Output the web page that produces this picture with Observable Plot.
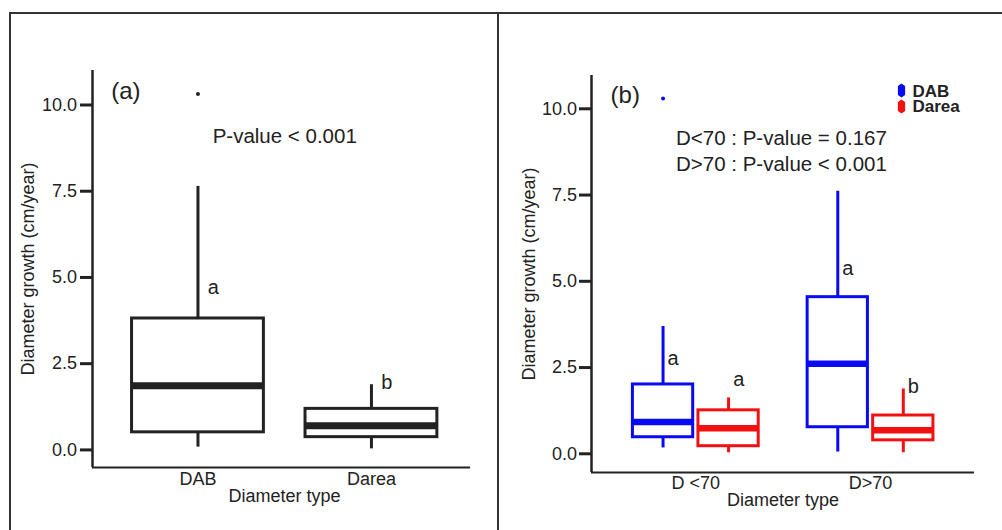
<!DOCTYPE html>
<html><head><meta charset="utf-8">
<script src="https://cdn.jsdelivr.net/npm/d3@7"></script>
<script src="https://cdn.jsdelivr.net/npm/@observablehq/plot@0.6"></script>
<style>
body{margin:0;background:#fff;}
#wrap{position:relative;width:1002px;height:530px;overflow:hidden;background:#fff;font-family:"Liberation Sans",Arial,sans-serif;}
.bl{position:absolute;background:#333;}
.panel{position:absolute;top:0;}
</style></head><body>
<div id="wrap">
<div id="pa" class="panel" style="left:0px"></div>
<div id="pb" class="panel" style="left:498px"></div>
<div class="bl" style="left:9px;top:12px;width:993px;height:2px"></div>
<div class="bl" style="left:9px;top:12px;width:2px;height:518px"></div>
<div class="bl" style="left:497px;top:12px;width:2px;height:518px"></div>
</div>
<script>
// ---------- Panel (a) data ----------
const catsA = ["DAB", "Darea"];
const minA = [0.08, 0.03];
const q1A = [0.51, 0.37];
const medA = [1.86, 0.70];
const q3A = [3.81, 1.19];
const maxA = [7.64, 1.89];
const outlierCatA = ["DAB"];
const outlierValA = [10.32];
const lettersA = ["a", "b"];
const letterYA = [4.70, 1.95];
const pTextA = ["P-value < 0.001"];

// ---------- Panel (b) data ----------
const groupsB = ["D <70", "D>70"];
const seriesB = ["DAB", "Darea"];
const rowGroupB = ["D <70", "D <70", "D>70", "D>70"];
const rowSeriesB = ["DAB", "Darea", "DAB", "Darea"];
const minB = [0.17, 0.03, 0.05, 0.03];
const q1B = [0.48, 0.22, 0.77, 0.39];
const medB = [0.92, 0.74, 2.61, 0.68];
const q3B = [2.01, 1.26, 4.54, 1.11];
const maxB = [3.69, 1.62, 7.61, 1.88];
const lettersB = ["a", "a", "a", "b"];
const letterYB = [2.75, 2.15, 5.36, 1.95];
const outlierGroupB = ["D <70"];
const outlierSeriesB = ["DAB"];
const outlierValB = [10.30];
const pTextB = ["D<70 : P-value = 0.167", "D>70 : P-value < 0.001"];
const pTextYB = [9.13, 8.38];

const yTicks = [0, 2.5, 5, 7.5, 10];
const yTickLabels = ["0.0", "2.5", "5.0", "7.5", "10.0"];
const colorB = {DAB: "#0a0af2", Darea: "#f21010"};
const ink = "#222";

// legend key symbol (tall hexagon)
const keyShape = {draw(ctx) {
  const w = 3.6, h = 7, c = 2.6;
  ctx.moveTo(0, -h); ctx.lineTo(w, -h + c); ctx.lineTo(w, h - c);
  ctx.lineTo(0, h); ctx.lineTo(-w, h - c); ctx.lineTo(-w, -h + c); ctx.closePath();
}};

const baseStyle = {fontFamily: "'Liberation Sans', Arial, sans-serif", fontSize: "18px", color: ink, background: "white", overflow: "visible"};

function yAxisMarks(pad) {
  return [
    Plot.axisY({ticks: yTicks, tickFormat: () => "", tickSize: 12, tickPadding: 0, strokeWidth: 3, stroke: ink, label: null}),
    Plot.text(yTickLabels, {y: (d, i) => yTicks[i], frameAnchor: "left", dx: -12 - pad, textAnchor: "end", lineAnchor: "middle", fontSize: 18, fill: ink})
  ];
}

// ---------- Panel (a) ----------
const idxA = catsA.map((_, i) => i);
const posA = c => catsA.indexOf(c) + 1;
const hwA = 0.38;
const yDomA = [-0.51, 11.0];
const xDomA = [0.392, 2.571];

const plotA = Plot.plot({
  width: 498, height: 530,
  marginLeft: 92, marginRight: 28, marginTop: 70, marginBottom: 63,
  style: baseStyle,
  x: {domain: xDomA},
  y: {domain: yDomA},
  marks: [
    Plot.ruleX(idxA, {x: i => posA(catsA[i]), y1: i => q3A[i], y2: i => maxA[i], stroke: ink, strokeWidth: 3}),
    Plot.ruleX(idxA, {x: i => posA(catsA[i]), y1: i => minA[i], y2: i => q1A[i], stroke: ink, strokeWidth: 3}),
    Plot.rect(idxA, {x1: i => posA(catsA[i]) - hwA, x2: i => posA(catsA[i]) + hwA, y1: i => q1A[i], y2: i => q3A[i], fill: "white", stroke: ink, strokeWidth: 3}),
    Plot.ruleY(idxA, {y: i => medA[i], x1: i => posA(catsA[i]) - hwA, x2: i => posA(catsA[i]) + hwA, stroke: ink, strokeWidth: 7}),
    Plot.dot(outlierValA, {x: (d, i) => posA(outlierCatA[i]), y: d => d, r: 2, fill: ink, stroke: "none"}),
    Plot.text(lettersA, {x: (d, i) => posA(catsA[i]) + 0.089, y: (d, i) => letterYA[i], fontSize: 20, fill: ink}),
    Plot.text(pTextA, {x: 1.5, y: 9.1, fontSize: 20.5, fill: ink}),
    Plot.text(["(a)"], {x: 0.5, y: 10.4, textAnchor: "start", fontSize: 24, fill: ink}),
    Plot.ruleX([xDomA[0]], {stroke: ink, strokeWidth: 2.5}),
    Plot.ruleY([yDomA[0]], {stroke: ink, strokeWidth: 2}),
    ...yAxisMarks(3.5),
    Plot.axisX({ticks: [1, 2], tickFormat: v => catsA[v - 1], tickSize: 0, tickPadding: 5, fill: ink, label: null}),
    Plot.text(["Diameter growth (cm/year)"], {frameAnchor: "left", dx: -64, rotate: -90, textAnchor: "middle", lineAnchor: "middle", fontSize: 18, fill: ink}),
    Plot.text(["Diameter type"], {frameAnchor: "bottom", dx: 3, dy: 29, textAnchor: "middle", lineAnchor: "middle", fontSize: 18, fill: ink})
  ]
});
document.getElementById("pa").appendChild(plotA);

// ---------- Panel (b) ----------
const idxB = rowGroupB.map((_, i) => i);
const offB = {DAB: -0.1875, Darea: 0.1875};
const posB = (g, s) => groupsB.indexOf(g) + 1 + offB[s];
const hwB = 0.1725;
const yDomB = [-0.542, 10.965];
const xDomB = [0.403, 2.595];
const cB = i => colorB[rowSeriesB[i]];

const legendMarks = seriesB.flatMap((s, i) => [
  Plot.dot([s], {frameAnchor: "top-right", dx: -73, dy: 15 + i * 16, symbol: keyShape, fill: colorB[s], stroke: "none"}),
  Plot.text([s], {frameAnchor: "top-right", dx: -62, dy: 16.5 + i * 15, textAnchor: "start", lineAnchor: "middle", fontWeight: "bold", fontSize: 17, fill: ink})
]);

const plotB = Plot.plot({
  width: 504, height: 530,
  marginLeft: 93, marginRight: 28, marginTop: 75, marginBottom: 58,
  style: baseStyle,
  x: {domain: xDomB},
  y: {domain: yDomB},
  marks: [
    Plot.ruleX(idxB, {x: i => posB(rowGroupB[i], rowSeriesB[i]), y1: i => q3B[i], y2: i => maxB[i], stroke: cB, strokeWidth: 3}),
    Plot.ruleX(idxB, {x: i => posB(rowGroupB[i], rowSeriesB[i]), y1: i => minB[i], y2: i => q1B[i], stroke: cB, strokeWidth: 3}),
    Plot.rect(idxB, {x1: i => posB(rowGroupB[i], rowSeriesB[i]) - hwB, x2: i => posB(rowGroupB[i], rowSeriesB[i]) + hwB, y1: i => q1B[i], y2: i => q3B[i], fill: "white", stroke: cB, strokeWidth: 3}),
    Plot.ruleY(idxB, {y: i => medB[i], x1: i => posB(rowGroupB[i], rowSeriesB[i]) - hwB, x2: i => posB(rowGroupB[i], rowSeriesB[i]) + hwB, stroke: cB, strokeWidth: 6.5}),
    Plot.dot(outlierValB, {x: (d, i) => posB(outlierGroupB[i], outlierSeriesB[i]), y: d => d, r: 2, fill: colorB.DAB, stroke: "none"}),
    Plot.text(lettersB, {x: (d, i) => posB(rowGroupB[i], rowSeriesB[i]) + 0.058, y: (d, i) => letterYB[i], fontSize: 20, fill: ink}),
    Plot.text(pTextB, {x: 1.49, y: (d, i) => pTextYB[i], fontSize: 20.5, fill: ink}),
    Plot.text(["(b)"], {x: 0.512, y: 10.4, textAnchor: "start", fontSize: 24, fill: ink}),
    Plot.ruleX([xDomB[0]], {stroke: ink, strokeWidth: 2.5}),
    Plot.ruleY([yDomB[0]], {stroke: ink, strokeWidth: 2}),
    ...yAxisMarks(2.5),
    Plot.axisX({ticks: [1, 2], tickFormat: v => groupsB[v - 1], tickSize: 0, tickPadding: 4, fill: ink, label: null}),
    Plot.text(["Diameter growth (cm/year)"], {frameAnchor: "left", dx: -62.7, rotate: -90, textAnchor: "middle", lineAnchor: "middle", fontSize: 18, fill: ink}),
    Plot.text(["Diameter type"], {frameAnchor: "bottom", dy: 28, textAnchor: "middle", lineAnchor: "middle", fontSize: 18, fill: ink}),
    ...legendMarks
  ]
});
document.getElementById("pb").appendChild(plotB);
</script>
</body></html>
